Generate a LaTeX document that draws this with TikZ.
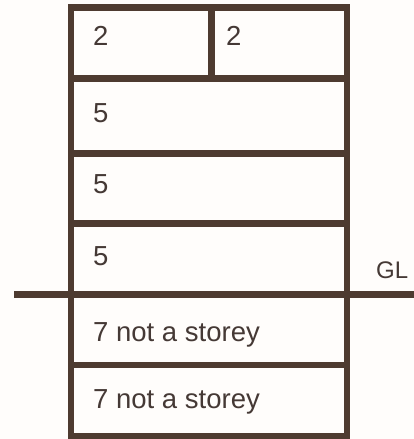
\documentclass[tikz,border=0pt]{standalone}
\usepackage{fontspec}
\setmainfont{Liberation Sans}
\definecolor{wall}{HTML}{4E3B30}
\definecolor{txt}{HTML}{453935}
\definecolor{paper}{HTML}{FFFDFB}
\begin{document}
\begin{tikzpicture}[x=1pt,y=-1pt,
  wallline/.style={draw=wall,line width=6.5pt,line join=miter},
  lbl/.style={anchor=base west,inner sep=0pt,text=txt,font=\fontsize{27.5}{27.5}\selectfont}]
\fill[paper] (0,0) rectangle (414,439);
\useasboundingbox (0,0) rectangle (414,439);
% coordinates
\coordinate (tl) at (71,7.7);
\coordinate (br) at (347,436.5);
\coordinate (d1l) at (71,78.5);   \coordinate (d1r) at (347,78.5);
\coordinate (d2l) at (71,153.5);  \coordinate (d2r) at (347,153.5);
\coordinate (d3l) at (71,223.5);  \coordinate (d3r) at (347,223.5);
\coordinate (d5l) at (71,365);    \coordinate (d5r) at (347,365);
\coordinate (vt) at (211.5,7.7);  \coordinate (vb) at (211.5,78.5);
\coordinate (gll) at (14,294.5);  \coordinate (glr) at (414,294.5);
% walls
\draw[wallline] (tl) rectangle (br);
\draw[wallline] (d1l) -- (d1r);
\draw[wallline] (d2l) -- (d2r);
\draw[wallline] (d3l) -- (d3r);
\draw[wallline] (d5l) -- (d5r);
\draw[wallline] (vt) -- (vb);
\draw[wallline] (gll) -- (glr);
% labels
\node[lbl] (a) at (93,45) {2};
\node[lbl] (b) at (226,45) {2};
\node[lbl] (c) at (93,122) {5};
\node[lbl] (d) at (93,193) {5};
\node[lbl] (e) at (93,265) {5};
\node[lbl] (f) at (93,341.5) {7 not a storey};
\node[lbl] (g) at (93,408) {7 not a storey};
\node[lbl,font=\fontsize{24}{24}\selectfont] (gl) at (376,278.3) {GL};
\end{tikzpicture}
\end{document}
